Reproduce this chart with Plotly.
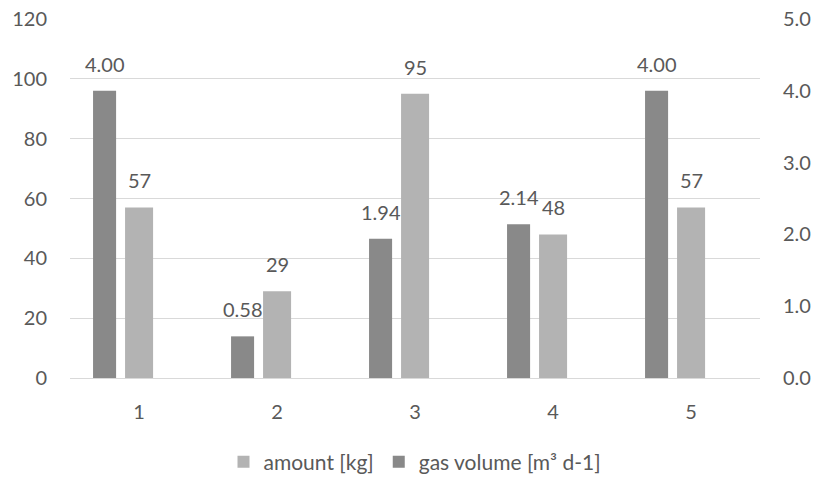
import plotly.graph_objects as go

categories = [1, 2, 3, 4, 5]
category_labels = ["1", "2", "3", "4", "5"]
amount_kg = [57, 29, 95, 48, 57]
gas_volume = [4.00, 0.58, 1.94, 2.14, 4.00]

left_ticks = [0, 20, 40, 60, 80, 100, 120]
right_ticks = [0.0, 1.0, 2.0, 3.0, 4.0, 5.0]

FONT = "Lato"
FS = 20
TXT = "#595959"
DARK = "#898989"
LIGHT = "#b3b3b3"

dark_off, dark_w = -0.333, 0.167
light_off, light_w = -0.101, 0.203

fig = go.Figure()
fig.add_trace(go.Bar(
    x=categories, y=amount_kg, name="amount [kg]",
    marker=dict(color=LIGHT, line=dict(width=0)),
    width=light_w, offset=light_off, yaxis="y",
))
fig.add_trace(go.Bar(
    x=categories, y=gas_volume, name="gas volume [m³ d-1]",
    marker=dict(color=DARK, line=dict(width=0)),
    width=dark_w, offset=dark_off, yaxis="y2",
))

annotations = []
for c, v in zip(categories, amount_kg):
    annotations.append(dict(
        x=c + light_off + light_w / 2, y=v, xref="x", yref="y",
        text=f"{v:.0f}", showarrow=False, yanchor="bottom", yshift=13,
        font=dict(family=FONT, size=FS, color=TXT),
    ))
for c, v in zip(categories, gas_volume):
    annotations.append(dict(
        x=c + dark_off + dark_w / 2, y=v, xref="x", yref="y2",
        text=f"{v:.2f}", showarrow=False, yanchor="bottom", yshift=13,
        font=dict(family=FONT, size=FS, color=TXT),
    ))

fig.update_layout(
    width=815, height=477,
    margin=dict(l=70, r=55, t=19, b=99, autoexpand=False),
    paper_bgcolor="white", plot_bgcolor="white",
    font=dict(family=FONT, size=FS, color=TXT),
    barmode="overlay",
    showlegend=True,
    legend=dict(
        orientation="h", x=0.5, xanchor="center",
        yref="container", y=0.031, yanchor="middle",
        font=dict(family=FONT, size=21, color=TXT),
        itemwidth=30, tracegroupgap=0,
    ),
    xaxis=dict(
        range=[0.5, 5.5], tickmode="array", tickvals=categories, ticktext=category_labels,
        showgrid=False, zeroline=False, showline=True, linecolor="#d9d9d9", linewidth=1,
        ticks="", ticklabelstandoff=16, automargin=False,
    ),
    yaxis=dict(
        range=[0, 120], tickmode="array", tickvals=left_ticks,
        ticktext=[str(t) for t in left_ticks],
        showgrid=True, gridcolor="#d9d9d9", gridwidth=1, zeroline=False,
        showline=False, ticks="", ticklabelstandoff=22, automargin=False,
    ),
    yaxis2=dict(
        range=[0, 5], overlaying="y", side="right", tickmode="array", tickvals=right_ticks,
        ticktext=[f"{t:.1f}" for t in right_ticks],
        showgrid=False, zeroline=False, showline=False, ticks="", ticklabelstandoff=22,
        automargin=False,
    ),
    annotations=annotations,
)

fig.write_html("out.html", config={"displayModeBar": False},
               post_script="document.body.style.margin='0';")
